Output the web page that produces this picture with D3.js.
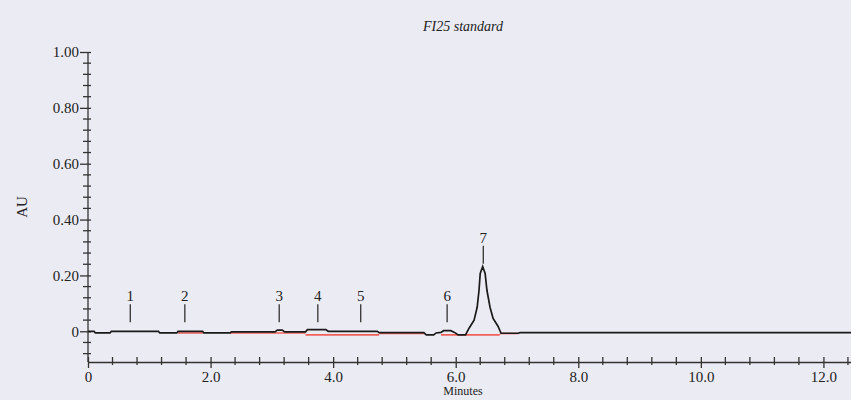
<!DOCTYPE html>
<html>
<head>
<meta charset="utf-8">
<script src="https://cdn.jsdelivr.net/npm/d3@7"></script>
<style>
  body { margin: 0; background: #ebebf3; }
  svg { display: block; }
  .tick text { font-family: "Liberation Serif", serif; font-size: 15px; fill: #222; }
  .domain, .tick line { stroke: #333; stroke-width: 1.3; }
</style>
</head>
<body>
<div id="chart"></div>
<script>
// Chromatogram trace (minutes, AU)
var traceTime = [0, 0.10, 0.12, 0.36, 0.38, 1.15, 1.17, 1.45, 1.47, 1.87, 1.89, 2.32, 2.34,
  3.05, 3.09, 3.17, 3.21, 3.55, 3.58, 3.88, 3.92, 4.72, 4.75, 5.48, 5.52, 5.64, 5.68,
  5.76, 5.80, 5.92, 5.98, 6.04, 6.16, 6.22, 6.30, 6.35, 6.38, 6.40, 6.44, 6.48, 6.51,
  6.56, 6.61, 6.69, 6.74, 7.02, 7.05, 12.5];
var traceAU = [0, 0, -0.006, -0.006, 0, 0, -0.006, -0.006, 0, 0, -0.006, -0.006, -0.002,
  -0.002, 0.004, 0.004, -0.002, -0.002, 0.006, 0.006, 0.000, 0.000, -0.005, -0.005, -0.013, -0.013, -0.006,
  -0.004, 0.002, 0.002, -0.004, -0.013, -0.013, 0.012, 0.040, 0.086, 0.146, 0.207, 0.232, 0.207, 0.146,
  0.086, 0.046, 0.018, -0.007, -0.007, -0.005, -0.005];

// Integration baselines (red)
var baseStart = [1.47, 2.32, 3.55, 4.75, 5.76, 6.72];
var baseEnd = [1.88, 3.55, 4.75, 5.50, 6.72, 7.02];
var baseAU = [-0.006, -0.006, -0.013, -0.008, -0.013, -0.008];

// Peak labels
var peakNums = ["1", "2", "3", "4", "5", "6", "7"];
var peakTimes = [0.69, 1.58, 3.12, 3.75, 4.45, 5.86, 6.45];
var peakApex = [0, 0, 0.004, 0.006, 0, 0.002, 0.232];

// Axis ticks
var xMajor = [0, 2, 4, 6, 8, 10, 12];
var xMajorLabels = ["0", "2.0", "4.0", "6.0", "8.0", "10.0", "12.0"];
var yMajor = [0, 0.2, 0.4, 0.6, 0.8, 1.0];
var yMajorLabels = ["0", "0.20", "0.40", "0.60", "0.80", "1.00"];

var svgWidth = 851;
var svgHeight = 400;

var svg = d3.select("#chart")
  .append("svg")
  .attr("width", svgWidth)
  .attr("height", svgHeight);

var x = d3.scaleLinear().domain([0, 12.45]).range([88, 851]);
var y = d3.scaleLinear().domain([-0.11, 1.0]).range([362, 52]);

// minor ticks
var xMinor = d3.range(0.4, 12.5, 0.4).filter(v => Math.abs(v / 2 - Math.round(v / 2)) > 0.01);
var yMinor = d3.range(-0.08, 1.0, 0.04).filter(v => Math.abs(v / 0.2 - Math.round(v / 0.2)) > 0.01);

// y axis
var yAxisG = svg.append("g")
  .attr("transform", `translate(${x(0)},0)`)
  .call(d3.axisLeft(y).tickValues(yMajor).tickSize(8).tickSizeOuter(0)
    .tickFormat((d, i) => yMajorLabels[i]));
yAxisG.select(".domain").attr("d", `M0,${y(1.0)}V${y(-0.11)}`);
yAxisG.selectAll(".tick line").attr("x1", 3);
yAxisG.selectAll(".tick text").attr("x", -9);

svg.append("g")
  .selectAll("line")
  .data(yMinor)
  .enter()
  .append("line")
  .attr("x1", x(0) - 5)
  .attr("x2", x(0) + 3)
  .attr("y1", d => y(d))
  .attr("y2", d => y(d))
  .attr("stroke", "#333")
  .attr("stroke-width", 1.3);

// x axis
var xAxisG = svg.append("g")
  .attr("transform", `translate(0,${y(-0.11)})`)
  .call(d3.axisBottom(x).tickValues(xMajor).tickSize(6).tickSizeOuter(0)
    .tickFormat((d, i) => xMajorLabels[i]));
xAxisG.selectAll(".tick line").attr("y1", -5);
xAxisG.selectAll(".tick text").attr("y", 9);

svg.append("g")
  .selectAll("line")
  .data(xMinor)
  .enter()
  .append("line")
  .attr("x1", d => x(d))
  .attr("x2", d => x(d))
  .attr("y1", y(-0.11) - 5)
  .attr("y2", y(-0.11) + 3)
  .attr("stroke", "#333")
  .attr("stroke-width", 1.3);

// red baselines
svg.append("g")
  .selectAll("line")
  .data(baseStart)
  .enter()
  .append("line")
  .attr("x1", d => x(d))
  .attr("x2", (d, i) => x(baseEnd[i]))
  .attr("y1", (d, i) => y(baseAU[i]))
  .attr("y2", (d, i) => y(baseAU[i]))
  .attr("stroke", "#f0605a")
  .attr("stroke-width", 1.6);

// trace
var line = d3.line()
  .x(d => x(d[0]))
  .y(d => y(d[1]));

svg.append("path")
  .datum(traceTime.map((t, i) => [t, traceAU[i]]))
  .attr("d", line)
  .attr("fill", "none")
  .attr("stroke", "#1a1a1a")
  .attr("stroke-width", 1.7);

// peak markers
var markers = svg.append("g");
peakNums.forEach(function(n, i) {
  var bottom = y(Math.max(peakApex[i] + 0.01, 0.032));
  markers.append("line")
    .attr("x1", x(peakTimes[i]))
    .attr("x2", x(peakTimes[i]))
    .attr("y1", bottom)
    .attr("y2", bottom - 18)
    .attr("stroke", "#333")
    .attr("stroke-width", 1.3);
  markers.append("text")
    .attr("x", x(peakTimes[i]))
    .attr("y", bottom - 21)
    .attr("text-anchor", "middle")
    .attr("font-family", "Liberation Serif, serif")
    .attr("font-size", "15px")
    .attr("fill", "#222")
    .text(n);
});

// title and axis labels
svg.append("text")
  .attr("x", 463)
  .attr("y", 31)
  .attr("text-anchor", "middle")
  .attr("font-family", "Liberation Serif, serif")
  .attr("font-style", "italic")
  .attr("font-size", "14px")
  .attr("fill", "#222")
  .text("FI25 standard");

svg.append("text")
  .attr("transform", `translate(27,${(y(1.0) + y(-0.11)) / 2}) rotate(-90)`)
  .attr("text-anchor", "middle")
  .attr("font-family", "Liberation Serif, serif")
  .attr("font-size", "15px")
  .attr("fill", "#222")
  .text("AU");

svg.append("text")
  .attr("x", 463)
  .attr("y", 395)
  .attr("text-anchor", "middle")
  .attr("font-family", "Liberation Serif, serif")
  .attr("font-size", "12px")
  .attr("fill", "#222")
  .text("Minutes");
</script>
</body>
</html>
